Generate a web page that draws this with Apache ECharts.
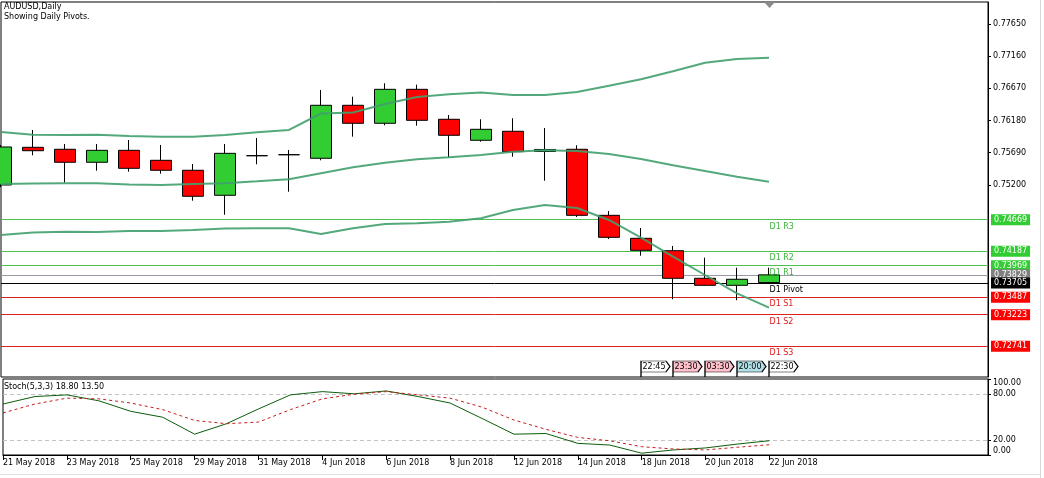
<!DOCTYPE html>
<html><head><meta charset="utf-8">
<script src="https://cdn.jsdelivr.net/npm/echarts@6/dist/echarts.min.js"></script>
<style>html,body{margin:0;padding:0;background:#fff}#c{width:1044px;height:478px}</style>
</head><body><div id="c"></div><script>
// ---------- data ----------
const dates = ['21 May 2018','22 May 2018','23 May 2018','24 May 2018','25 May 2018',
  '28 May 2018','29 May 2018','30 May 2018','31 May 2018','1 Jun 2018',
  '4 Jun 2018','5 Jun 2018','6 Jun 2018','7 Jun 2018','8 Jun 2018',
  '11 Jun 2018','12 Jun 2018','13 Jun 2018','14 Jun 2018','15 Jun 2018',
  '18 Jun 2018','19 Jun 2018','20 Jun 2018','21 Jun 2018','22 Jun 2018'];
const open  = [0.75198,0.75772,0.75742,0.75544,0.75726,0.75574,0.75422,0.75041,0.75644,0.75659,0.75605,0.76412,0.76138,0.76655,0.76199,0.75879,0.76016,0.75708,0.75742,0.74736,0.74386,0.74197,0.73777,0.73670,0.73712];
const close = [0.75777,0.75720,0.75544,0.75726,0.75452,0.75422,0.75026,0.75680,0.75644,0.75659,0.76412,0.76138,0.76655,0.76183,0.75955,0.76046,0.75705,0.75739,0.74736,0.74401,0.74203,0.73777,0.73670,0.73762,0.73829];
const low   = [0.75167,0.75650,0.75233,0.75416,0.75400,0.75370,0.74959,0.74745,0.75513,0.75096,0.75574,0.75934,0.76107,0.76101,0.75620,0.75857,0.75629,0.75263,0.74710,0.74375,0.74121,0.73457,0.73664,0.73442,0.73712];
const high  = [0.75807,0.76036,0.75822,0.75822,0.75883,0.75807,0.75518,0.75822,0.75914,0.75731,0.76645,0.76543,0.76747,0.76726,0.76264,0.76199,0.76214,0.76066,0.75803,0.74802,0.74543,0.74269,0.74091,0.73938,0.73938];
const bandUpper  = [0.76005,0.75964,0.75959,0.75964,0.75944,0.75933,0.75933,0.75959,0.76000,0.76036,0.76287,0.76302,0.76432,0.76538,0.76579,0.76607,0.76569,0.76569,0.76614,0.76710,0.76808,0.76930,0.77061,0.77117,0.77137];
const bandMiddle = [0.75213,0.75221,0.75224,0.75224,0.75205,0.75198,0.75213,0.75224,0.75254,0.75285,0.75376,0.75467,0.75537,0.75589,0.75620,0.75655,0.75705,0.75726,0.75716,0.75670,0.75594,0.75498,0.75411,0.75324,0.75248];
const bandLower  = [0.74436,0.74474,0.74487,0.74482,0.74497,0.74497,0.74512,0.74535,0.74538,0.74538,0.74452,0.74538,0.74604,0.74615,0.74639,0.74691,0.74817,0.74893,0.74848,0.74665,0.74395,0.74106,0.73827,0.73548,0.73329];
const stochMain   = [67.1,76.9,79.1,71.3,57.5,49.7,27.4,41.2,60.6,79.1,83.4,80.5,84.3,76.9,68.4,48.1,27.4,28.3,15.3,13.1,2.4,6.7,9.3,14.4,18.8];
const stochSignal = [55.4,67.1,74.8,73.9,68.4,59.7,45.5,41.2,43.3,59.7,73.9,80.0,83.4,79.1,74.8,63.0,46.0,33.8,23.1,18.7,10.9,7.9,6.7,10.2,13.5];
const priceTicks = [0.77650,0.77160,0.76670,0.76180,0.75690,0.75200];
const stochTicks = [0,20,80,100];
const dateTickIdx = [0,2,4,6,8,10,12,14,16,18,20,22,24];
const pivotLevels = [0.74669,0.74187,0.73969,0.73829,0.73705,0.73487,0.73223,0.72741];
const pivotNames  = ['D1 R3','D1 R2','D1 R1','','D1 Pivot','D1 S1','D1 S2','D1 S3'];
const sessionTimes = ['22:45','23:30','03:30','20:00','22:30'];
const sessionIdx   = [20,21,22,23,24];

// ---------- styles ----------
const FONT = 'DejaVu Sans';
const FS = 8;
const pivotLineColors = ['#4cc24c','#4cc24c','#4cc24c','#9a9aa4','#000000','#dd1f1f','#dd1f1f','#dd1f1f'];
const pivotBoxColors  = ['#32cd32','#32cd32','#32cd32','#808080','#000000','#ff0000','#ff0000','#ff0000'];
const pivotTextColors = ['#3cb43c','#3cb43c','#3cb43c','#000','#000000','#e01b1b','#e01b1b','#e01b1b'];
const sessionFills = ['#ffffff','#ffc0cb','#ffc0cb','#b0e0e6','#ffffff'];
const BAND = 'rgba(64,160,110,0.9)';

const XMIN = 0, XMAX = 987/32;
const YMIN = 0.722734, YMAX = 0.779851;

const candleData = dates.map((d,i)=>[i, open[i], close[i], low[i], high[i]]);
const pair = arr => arr.map((v,i)=>[i, v]);

const chart = echarts.init(document.getElementById('c'), null, {renderer:'canvas'});
const last = stochMain.length - 1;

chart.setOption({
  animation: false,
  backgroundColor: '#ffffff',
  textStyle: {fontFamily: FONT, fontSize: FS},
  grid: [
    {left: 1, top: 2, width: 987, height: 375, show: true, borderColor: '#000', borderWidth: 1, backgroundColor: '#fff'},
    {left: 1, top: 379, width: 987, height: 76, show: true, borderColor: '#000', borderWidth: 1, backgroundColor: '#fff'}
  ],
  xAxis: [
    {gridIndex: 0, type: 'value', min: XMIN, max: XMAX, show: false, splitLine: {show: false}, axisLine: {onZero: false}},
    {gridIndex: 1, type: 'value', min: XMIN, max: XMAX, position: 'bottom',
      axisLine: {show: true, onZero: false, lineStyle: {color: '#000', width: 1}},
      axisTick: {show: true, customValues: dateTickIdx, length: 5, lineStyle: {color: '#000'}},
      axisLabel: {show: true, customValues: dateTickIdx, formatter: v => dates[Math.round(v)] || '',
        align: 'left', margin: 4, color: '#000', fontFamily: FONT, fontSize: FS, hideOverlap: false},
      splitLine: {show: false}}
  ],
  yAxis: [
    {gridIndex: 0, type: 'value', position: 'right', min: YMIN, max: YMAX,
      axisLine: {show: true, onZero: false, lineStyle: {color: '#000'}},
      axisTick: {show: true, customValues: priceTicks, length: 3, lineStyle: {color: '#000'}},
      axisLabel: {show: true, customValues: priceTicks, formatter: v => v.toFixed(5), margin: 5,
        color: '#000', fontFamily: FONT, fontSize: FS},
      splitLine: {show: false}},
    {gridIndex: 1, type: 'value', position: 'right', min: 0, max: 100,
      axisLine: {show: true, onZero: false, lineStyle: {color: '#000'}},
      axisTick: {show: true, customValues: stochTicks, length: 3, lineStyle: {color: '#000'}},
      axisLabel: {show: true, customValues: stochTicks, formatter: v => v.toFixed(2), margin: 5,
        color: '#000', fontFamily: FONT, fontSize: FS,
        verticalAlignMaxLabel: 'top', verticalAlignMinLabel: 'bottom'},
      splitLine: {show: false}}
  ],
  series: [
    {
      type: 'candlestick', xAxisIndex: 0, yAxisIndex: 0, z: 2, clip: false,
      data: candleData, barWidth: 21,
      itemStyle: {color: '#32cd32', color0: '#ff0000', borderColor: '#000', borderColor0: '#000', borderColorDoji: '#000', borderWidth: 1},
      markLine: {
        z: 1, silent: true, symbol: ['none','none'], animation: false, precision: 5,
        data: pivotLevels.map((v,k)=>({
          yAxis: v,
          lineStyle: {color: pivotLineColors[k], width: 1, type: 'solid'},
          label: {show: true, position: 'end', distance: 3, formatter: v.toFixed(5),
            backgroundColor: pivotBoxColors[k], color: '#fff', padding: [2,3,1,3],
            fontFamily: FONT, fontSize: FS}
        }))
      },
      markPoint: {
        z: 6, silent: true, animation: false,
        data: sessionTimes.map((t,k)=>({
          coord: [sessionIdx[k], YMIN],
          symbol: 'path://M0,0L25,0L29,5.5L25,11L0,11Z M0,11L0,16',
          symbolSize: [29,16], symbolKeepAspect: false, symbolOffset: [14.5,-8],
          itemStyle: {color: sessionFills[k], borderColor: '#000', borderWidth: 1},
          label: {show: true, position: 'inside', formatter: t, color: '#000',
            fontFamily: FONT, fontSize: FS, offset: [-1.5,-2.5]}
        }))
      }
    },
    {type: 'line', name: 'upper', xAxisIndex: 0, yAxisIndex: 0, z: 3, data: pair(bandUpper), showSymbol: false, symbol: 'none',
      lineStyle: {color: BAND, width: 2}, silent: true,
      markPoint: {
        z: 6, silent: true, animation: false,
        data: pivotLevels.map((v,k)=>({name: pivotNames[k], v, k})).filter(o=>o.name).map(o=>({
          coord: [dates.length - 1, o.v], symbol: 'rect', symbolSize: 1,
          itemStyle: {color: 'rgba(0,0,0,0)'},
          label: {show: true, position: 'right', distance: 0, offset: [0,7], formatter: o.name,
            color: pivotTextColors[o.k], fontFamily: FONT, fontSize: FS}
        }))
      }},
    {type: 'line', name: 'middle', xAxisIndex: 0, yAxisIndex: 0, z: 3, data: pair(bandMiddle), showSymbol: false, symbol: 'none',
      lineStyle: {color: BAND, width: 2}, silent: true},
    {type: 'line', name: 'lower', xAxisIndex: 0, yAxisIndex: 0, z: 3, data: pair(bandLower), showSymbol: false, symbol: 'none',
      lineStyle: {color: BAND, width: 2}, silent: true},
    {type: 'line', name: 'stoch', xAxisIndex: 1, yAxisIndex: 1, z: 3, data: pair(stochMain), showSymbol: false, symbol: 'none',
      lineStyle: {color: '#0b5d0b', width: 1}, silent: true,
      markLine: {z: 1, silent: true, symbol: ['none','none'], animation: false, label: {show: false}, precision: 2,
        data: [{yAxis: 80}, {yAxis: 20}],
        lineStyle: {color: '#c4c4c4', width: 1, type: [4,3]}}},
    {type: 'line', name: 'signal', xAxisIndex: 1, yAxisIndex: 1, z: 3, data: pair(stochSignal), showSymbol: false, symbol: 'none',
      lineStyle: {color: '#c41e1e', width: 1, type: [3,3]}, silent: true}
  ],
  graphic: [
    {type: 'text', left: 4, top: 2, silent: true,
      style: {text: 'AUDUSD,Daily\nShowing Daily Pivots.', fontFamily: FONT, fontSize: FS, lineHeight: 10, fill: '#000'}},
    {type: 'text', left: 4, top: 383, silent: true,
      style: {text: 'Stoch(5,3,3) ' + stochMain[last].toFixed(2) + ' ' + stochSignal[last].toFixed(2), fontFamily: FONT, fontSize: FS, fill: '#000'}},
    {type: 'polygon', silent: true, shape: {points: [[764,2],[775,2],[769.5,8]]}, style: {fill: '#8c8c8c'}},
    {type: 'line', silent: true, shape: {x1: 1040.5, y1: 0, x2: 1040.5, y2: 478}, style: {stroke: '#d8d8d8', lineWidth: 1}},
    {type: 'line', silent: true, shape: {x1: 0, y1: 474.5, x2: 1040, y2: 474.5}, style: {stroke: '#e0e0e0', lineWidth: 1}}
  ]
});
</script></body></html>
